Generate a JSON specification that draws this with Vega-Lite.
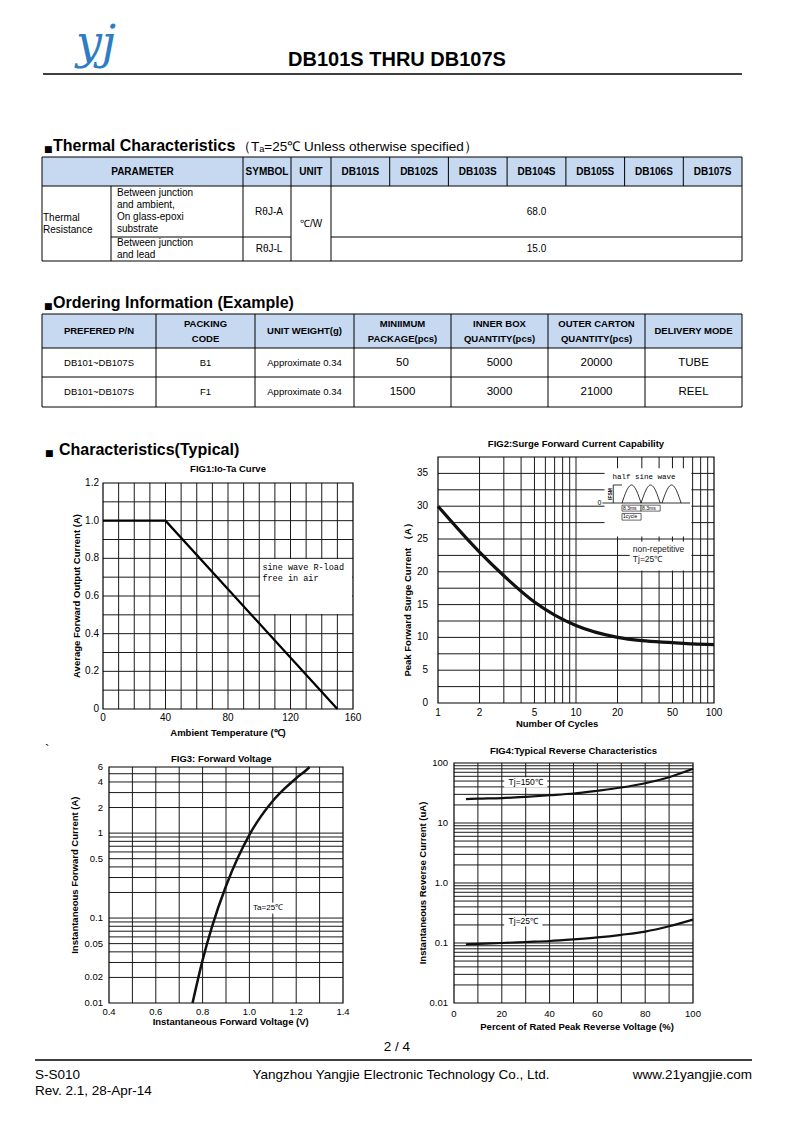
{
"$schema": "https://vega.github.io/schema/vega-lite/v6.json",
"width": 794, "height": 1122, "padding": 0, "autosize": {"type": "none"},
"background": "white",
"config": {"view": {"stroke": null}, "axis": {"disable": true}, "legend": {"disable": true}, "font": "Liberation Sans", "text": {"font": "Liberation Sans", "color": "#000"}},
"resolve": {"scale": {"x": "independent", "y": "independent"}},
"layer": [
{"data": {"values": [{"k": 0, "t": "yj"}]},
 "mark": {"type": "text", "font": "DejaVu Serif", "fontStyle": "italic", "fontSize": 46, "color": "#2e7cc4", "align": "center", "baseline": "middle"},
 "encoding": {"x": {"field": "k", "type": "quantitative", "scale": {"domain": [0, 1], "range": [96, 96]}}, "y": {"field": "k", "type": "quantitative", "scale": {"domain": [0, 1], "range": [44, 44]}}, "text": {"field": "t"}}},
{"data": {"values": [{"k": 0, "t": "DB101S THRU DB107S"}]},
 "mark": {"type": "text", "fontSize": 20, "fontWeight": "bold", "align": "center", "baseline": "middle"},
 "encoding": {"x": {"field": "k", "type": "quantitative", "scale": {"domain": [0, 1], "range": [397, 397]}}, "y": {"field": "k", "type": "quantitative", "scale": {"domain": [0, 1], "range": [60, 60]}}, "text": {"field": "t"}}},
{"data": {"values": [{"s": 0, "p": 0}, {"s": 0, "p": 1}, {"s": 1, "p": 2}, {"s": 1, "p": 3}]},
 "mark": {"type": "line", "color": "#000", "strokeWidth": 1.3},
 "encoding": {"x": {"field": "p", "type": "quantitative", "scale": {"domain": [0, 1, 2, 3], "range": [43, 742, 35, 752]}}, "y": {"field": "p", "type": "quantitative", "scale": {"domain": [0, 1, 2, 3], "range": [74, 74, 1060, 1060]}}, "detail": {"field": "s"}}},
{"data": {"values": [{"k": 0, "t": "Thermal Characteristics"}, {"k": 1, "t": "Ordering Information (Example)"}, {"k": 2, "t": "Characteristics(Typical)"}]},
 "mark": {"type": "text", "fontSize": 16, "fontWeight": "bold", "align": "left", "baseline": "middle"},
 "encoding": {"x": {"field": "k", "type": "quantitative", "scale": {"domain": [0, 1, 2], "range": [53, 53, 59]}}, "y": {"field": "k", "type": "quantitative", "scale": {"domain": [0, 1, 2], "range": [146, 303, 450]}}, "text": {"field": "t"}}},
{"data": {"values": [{"k": 0, "t": "■"}, {"k": 1, "t": "■"}, {"k": 2, "t": "■"}]},
 "mark": {"type": "text", "font": "DejaVu Sans", "fontSize": 9, "align": "left", "baseline": "alphabetic"},
 "encoding": {"x": {"field": "k", "type": "quantitative", "scale": {"domain": [0, 1, 2], "range": [44, 44, 45]}}, "y": {"field": "k", "type": "quantitative", "scale": {"domain": [0, 1, 2], "range": [152, 309, 456]}}, "text": {"field": "t"}}},
{"data": {"values": [{"k": 0, "t": "（Tₐ=25℃ Unless otherwise specified）"}, {"k": 1, "t": "S-S010"}, {"k": 2, "t": "Rev. 2.1, 28-Apr-14"}, {"k": 3, "t": "`"}]},
 "mark": {"type": "text", "fontSize": 13.5, "align": "left", "baseline": "middle"},
 "encoding": {"x": {"field": "k", "type": "quantitative", "scale": {"domain": [0, 1, 2, 3], "range": [237, 35, 35, 45]}}, "y": {"field": "k", "type": "quantitative", "scale": {"domain": [0, 1, 2, 3], "range": [147, 1075, 1091, 750]}}, "text": {"field": "t"}}},
{"data": {"values": [{"k": 0, "t": "2 / 4"}, {"k": 1, "t": "Yangzhou Yangjie Electronic Technology Co., Ltd."}]},
 "mark": {"type": "text", "fontSize": 13.5, "align": "center", "baseline": "middle"},
 "encoding": {"x": {"field": "k", "type": "quantitative", "scale": {"domain": [0, 1], "range": [397, 401]}}, "y": {"field": "k", "type": "quantitative", "scale": {"domain": [0, 1], "range": [1047, 1075]}}, "text": {"field": "t"}}},
{"data": {"values": [{"k": 0, "t": "www.21yangjie.com"}]},
 "mark": {"type": "text", "fontSize": 13.5, "align": "right", "baseline": "middle"},
 "encoding": {"x": {"field": "k", "type": "quantitative", "scale": {"domain": [0, 1], "range": [752, 752]}}, "y": {"field": "k", "type": "quantitative", "scale": {"domain": [0, 1], "range": [1075, 1075]}}, "text": {"field": "t"}}},

{"data": {"values": [{"e1": 0, "e2": 11, "r1": 0, "r2": 1}]},
 "mark": {"type": "rect", "fill": "#c6d9f1"},
 "encoding": {"x": {"field": "e1", "type": "quantitative", "scale": {"domain": [0,1,2,3,4,5,6,7,8,9,10,11], "range": [42,111,243,291,331,389.7,448.4,507.1,565.9,624.6,683.3,742]}}, "x2": {"field": "e2"}, "y": {"field": "r1", "type": "quantitative", "scale": {"domain": [0,1,2,3], "range": [157,186,237,261]}}, "y2": {"field": "r2"}}},
{"data": {"values": [{"a": 0, "b": 11, "r": 0}, {"a": 0, "b": 11, "r": 1}, {"a": 1, "b": 3, "r": 2}, {"a": 4, "b": 11, "r": 2}, {"a": 0, "b": 11, "r": 3}]},
 "mark": {"type": "rule", "color": "#000", "strokeWidth": 1},
 "encoding": {"x": {"field": "a", "type": "quantitative", "scale": {"domain": [0,1,2,3,4,5,6,7,8,9,10,11], "range": [42,111,243,291,331,389.7,448.4,507.1,565.9,624.6,683.3,742]}}, "x2": {"field": "b"}, "y": {"field": "r", "type": "quantitative", "scale": {"domain": [0,1,2,3], "range": [157,186,237,261]}}}},
{"data": {"values": [{"e": 0, "r1": 0, "r2": 3}, {"e": 1, "r1": 1, "r2": 3}, {"e": 2, "r1": 0, "r2": 3}, {"e": 3, "r1": 0, "r2": 3}, {"e": 4, "r1": 0, "r2": 3}, {"e": 5, "r1": 0, "r2": 1}, {"e": 6, "r1": 0, "r2": 1}, {"e": 7, "r1": 0, "r2": 1}, {"e": 8, "r1": 0, "r2": 1}, {"e": 9, "r1": 0, "r2": 1}, {"e": 10, "r1": 0, "r2": 1}, {"e": 11, "r1": 0, "r2": 3}]},
 "mark": {"type": "rule", "color": "#000", "strokeWidth": 1},
 "encoding": {"x": {"field": "e", "type": "quantitative", "scale": {"domain": [0,1,2,3,4,5,6,7,8,9,10,11], "range": [42,111,243,291,331,389.7,448.4,507.1,565.9,624.6,683.3,742]}}, "y": {"field": "r1", "type": "quantitative", "scale": {"domain": [0,1,2,3], "range": [157,186,237,261]}}, "y2": {"field": "r2"}}},
{"data": {"values": [{"c": 0, "r": 0, "t": "PARAMETER"}, {"c": 1, "r": 0, "t": "SYMBOL"}, {"c": 2, "r": 0, "t": "UNIT"}, {"c": 3, "r": 0, "t": "DB101S"}, {"c": 4, "r": 0, "t": "DB102S"}, {"c": 5, "r": 0, "t": "DB103S"}, {"c": 6, "r": 0, "t": "DB104S"}, {"c": 7, "r": 0, "t": "DB105S"}, {"c": 8, "r": 0, "t": "DB106S"}, {"c": 9, "r": 0, "t": "DB107S"}]},
 "mark": {"type": "text", "fontSize": 10, "fontWeight": "bold", "align": "center", "baseline": "middle"},
 "encoding": {"x": {"field": "c", "type": "quantitative", "scale": {"domain": [0,1,2,3,4,5,6,7,8,9], "range": [142.5,267,311,360.35,419.05,477.75,536.5,595.25,653.95,712.65]}}, "y": {"field": "r", "type": "quantitative", "scale": {"domain": [0,1,2,3], "range": [171.5,211.5,249,223.5]}}, "text": {"field": "t"}}},
{"data": {"values": [{"c": 1, "r": 1, "t": "RθJ-A"}, {"c": 1, "r": 2, "t": "RθJ-L"}, {"c": 2, "r": 3, "t": "℃/W"}, {"c": 6, "r": 1, "t": "68.0"}, {"c": 6, "r": 2, "t": "15.0"}]},
 "mark": {"type": "text", "fontSize": 10, "align": "center", "baseline": "middle"},
 "encoding": {"x": {"field": "c", "type": "quantitative", "scale": {"domain": [0,1,2,3,4,5,6,7,8,9], "range": [142.5,269,311,360.35,419.05,477.75,536.5,595.25,653.95,712.65]}}, "y": {"field": "r", "type": "quantitative", "scale": {"domain": [0,1,2,3], "range": [171.5,211.5,249,223.5]}}, "text": {"field": "t"}}},
{"data": {"values": [{"c": 0, "r": 3, "t": "Thermal\nResistance"}, {"c": 1, "r": 1, "t": "Between junction\nand ambient,\nOn glass-epoxi\nsubstrate"}, {"c": 1, "r": 2, "t": "Between junction\nand lead"}]},
 "mark": {"type": "text", "fontSize": 10, "align": "left", "baseline": "middle", "lineBreak": "\n", "lineHeight": 12},
 "encoding": {"x": {"field": "c", "type": "quantitative", "scale": {"domain": [0, 1], "range": [43, 117]}}, "y": {"field": "r", "type": "quantitative", "scale": {"domain": [0,1,2,3], "range": [171.5,193,243,218]}}, "text": {"field": "t"}}},

{"data": {"values": [{"e1": 0, "e2": 7, "r1": 0, "r2": 1}]},
 "mark": {"type": "rect", "fill": "#c6d9f1"},
 "encoding": {"x": {"field": "e1", "type": "quantitative", "scale": {"domain": [0,1,2,3,4,5,6,7], "range": [42,156,255,354,451,548,645,742]}}, "x2": {"field": "e2"}, "y": {"field": "r1", "type": "quantitative", "scale": {"domain": [0,1,2,3], "range": [314,348,377,407]}}, "y2": {"field": "r2"}}},
{"data": {"values": [{"a": 0, "b": 7, "r": 0}, {"a": 0, "b": 7, "r": 1}, {"a": 0, "b": 7, "r": 2}, {"a": 0, "b": 7, "r": 3}]},
 "mark": {"type": "rule", "color": "#000", "strokeWidth": 1},
 "encoding": {"x": {"field": "a", "type": "quantitative", "scale": {"domain": [0,1,2,3,4,5,6,7], "range": [42,156,255,354,451,548,645,742]}}, "x2": {"field": "b"}, "y": {"field": "r", "type": "quantitative", "scale": {"domain": [0,1,2,3], "range": [314,348,377,407]}}}},
{"data": {"values": [{"e": 0}, {"e": 1}, {"e": 2}, {"e": 3}, {"e": 4}, {"e": 5}, {"e": 6}, {"e": 7}]},
 "mark": {"type": "rule", "color": "#000", "strokeWidth": 1},
 "encoding": {"x": {"field": "e", "type": "quantitative", "scale": {"domain": [0,1,2,3,4,5,6,7], "range": [42,156,255,354,451,548,645,742]}}, "y": {"datum": 0, "type": "quantitative", "scale": {"domain": [0,1,2,3], "range": [314,348,377,407]}}, "y2": {"datum": 3}}},
{"data": {"values": [{"c": 0, "t": "PREFERED P/N"}, {"c": 2, "t": "UNIT WEIGHT(g)"}, {"c": 6, "t": "DELIVERY MODE"}]},
 "mark": {"type": "text", "fontSize": 9.5, "fontWeight": "bold", "align": "center", "baseline": "middle"},
 "encoding": {"x": {"field": "c", "type": "quantitative", "scale": {"domain": [0,1,2,3,4,5,6], "range": [99,205.5,304.5,402.5,499.5,596.5,693.5]}}, "y": {"datum": 0, "type": "quantitative", "scale": {"domain": [0,1,2], "range": [331,362.5,392]}}, "text": {"field": "t"}}},
{"data": {"values": [{"c": 1, "t": "PACKING\nCODE"}, {"c": 3, "t": "MINIIMUM\nPACKAGE(pcs)"}, {"c": 4, "t": "INNER BOX\nQUANTITY(pcs)"}, {"c": 5, "t": "OUTER CARTON\nQUANTITY(pcs)"}]},
 "mark": {"type": "text", "fontSize": 9.5, "fontWeight": "bold", "align": "center", "baseline": "middle", "lineBreak": "\n", "lineHeight": 15},
 "encoding": {"x": {"field": "c", "type": "quantitative", "scale": {"domain": [0,1,2,3,4,5,6], "range": [99,205.5,304.5,402.5,499.5,596.5,693.5]}}, "y": {"datum": 0, "type": "quantitative", "scale": {"domain": [0,1,2], "range": [324,362.5,392]}}, "text": {"field": "t"}}},
{"data": {"values": [{"c": 0, "r": 1, "t": "DB101~DB107S"}, {"c": 1, "r": 1, "t": "B1"}, {"c": 2, "r": 1, "t": "Approximate 0.34"}, {"c": 0, "r": 2, "t": "DB101~DB107S"}, {"c": 1, "r": 2, "t": "F1"}, {"c": 2, "r": 2, "t": "Approximate 0.34"}]},
 "mark": {"type": "text", "fontSize": 9.5, "align": "center", "baseline": "middle"},
 "encoding": {"x": {"field": "c", "type": "quantitative", "scale": {"domain": [0,1,2,3,4,5,6], "range": [99,205.5,304.5,402.5,499.5,596.5,693.5]}}, "y": {"field": "r", "type": "quantitative", "scale": {"domain": [0,1,2], "range": [331,362.5,392]}}, "text": {"field": "t"}}},
{"data": {"values": [{"c": 3, "r": 1, "t": "50"}, {"c": 4, "r": 1, "t": "5000"}, {"c": 5, "r": 1, "t": "20000"}, {"c": 6, "r": 1, "t": "TUBE"}, {"c": 3, "r": 2, "t": "1500"}, {"c": 4, "r": 2, "t": "3000"}, {"c": 5, "r": 2, "t": "21000"}, {"c": 6, "r": 2, "t": "REEL"}]},
 "mark": {"type": "text", "fontSize": 11.5, "align": "center", "baseline": "middle"},
 "encoding": {"x": {"field": "c", "type": "quantitative", "scale": {"domain": [0,1,2,3,4,5,6], "range": [99,205.5,304.5,402.5,499.5,596.5,693.5]}}, "y": {"field": "r", "type": "quantitative", "scale": {"domain": [0,1,2], "range": [331,362.5,392]}}, "text": {"field": "t"}}},

{"data": {"values": [{"g": 10}, {"g": 20}, {"g": 30}, {"g": 40}, {"g": 50}, {"g": 60}, {"g": 70}, {"g": 80}, {"g": 90}, {"g": 100}, {"g": 110}, {"g": 120}, {"g": 130}, {"g": 140}, {"g": 150}]},
 "mark": {"type": "rule", "color": "#1a1a1a", "strokeWidth": 1},
 "encoding": {"x": {"field": "g", "type": "quantitative", "scale": {"domain": [0, 160], "range": [103, 353]}}, "y": {"datum": 0, "type": "quantitative", "scale": {"domain": [0, 1.2], "range": [709, 483]}}, "y2": {"datum": 1.2}}},
{"data": {"values": [{"g": 0.1}, {"g": 0.2}, {"g": 0.3}, {"g": 0.4}, {"g": 0.5}, {"g": 0.6}, {"g": 0.7}, {"g": 0.8}, {"g": 0.9}, {"g": 1.0}, {"g": 1.1}]},
 "mark": {"type": "rule", "color": "#1a1a1a", "strokeWidth": 1},
 "encoding": {"y": {"field": "g", "type": "quantitative", "scale": {"domain": [0, 1.2], "range": [709, 483]}}, "x": {"datum": 0, "type": "quantitative", "scale": {"domain": [0, 160], "range": [103, 353]}}, "x2": {"datum": 160}}},
{"data": {"values": [{}]},
 "mark": {"type": "rect", "fill": "#fff"},
 "encoding": {"x": {"datum": 100.5, "type": "quantitative", "scale": {"domain": [0, 160], "range": [103, 353]}}, "x2": {"datum": 159.5}, "y": {"datum": 0.504, "type": "quantitative", "scale": {"domain": [0, 1.2], "range": [709, 483]}}, "y2": {"datum": 0.796}}},
{"data": {"values": [{}]},
 "mark": {"type": "rect", "fill": "transparent", "stroke": "#000", "strokeWidth": 1.2},
 "encoding": {"x": {"datum": 0, "type": "quantitative", "scale": {"domain": [0, 160], "range": [103, 353]}}, "x2": {"datum": 160}, "y": {"datum": 0, "type": "quantitative", "scale": {"domain": [0, 1.2], "range": [709, 483]}}, "y2": {"datum": 1.2}}},
{"data": {"values": [{"ta": 0, "io": 1.0}, {"ta": 40, "io": 1.0}, {"ta": 150, "io": 0}]},
 "mark": {"type": "line", "color": "#000", "strokeWidth": 2.3},
 "encoding": {"x": {"field": "ta", "type": "quantitative", "scale": {"domain": [0, 160], "range": [103, 353]}}, "y": {"field": "io", "type": "quantitative", "scale": {"domain": [0, 1.2], "range": [709, 483]}}}},
{"data": {"values": [{"t": "sine wave R-load\nfree in air"}]},
 "mark": {"type": "text", "font": "Liberation Mono", "fontSize": 8.5, "align": "left", "baseline": "middle", "lineBreak": "\n", "lineHeight": 11},
 "encoding": {"x": {"datum": 102, "type": "quantitative", "scale": {"domain": [0, 160], "range": [103, 353]}}, "y": {"datum": 0.755, "type": "quantitative", "scale": {"domain": [0, 1.2], "range": [709, 483]}}, "text": {"field": "t"}}},
{"data": {"values": [{"g": 0, "l": "0"}, {"g": 40, "l": "40"}, {"g": 80, "l": "80"}, {"g": 120, "l": "120"}, {"g": 160, "l": "160"}]},
 "mark": {"type": "text", "fontSize": 10, "align": "center", "baseline": "middle", "dy": 9},
 "encoding": {"x": {"field": "g", "type": "quantitative", "scale": {"domain": [0, 160], "range": [103, 353]}}, "y": {"datum": 0, "type": "quantitative", "scale": {"domain": [0, 1.2], "range": [709, 483]}}, "text": {"field": "l"}}},
{"data": {"values": [{"g": 0, "l": "0"}, {"g": 0.2, "l": "0.2"}, {"g": 0.4, "l": "0.4"}, {"g": 0.6, "l": "0.6"}, {"g": 0.8, "l": "0.8"}, {"g": 1.0, "l": "1.0"}, {"g": 1.2, "l": "1.2"}]},
 "mark": {"type": "text", "fontSize": 10, "align": "right", "baseline": "middle", "dx": -4},
 "encoding": {"y": {"field": "g", "type": "quantitative", "scale": {"domain": [0, 1.2], "range": [709, 483]}}, "x": {"datum": 0, "type": "quantitative", "scale": {"domain": [0, 160], "range": [103, 353]}}, "text": {"field": "l"}}},
{"data": {"values": [{"t": "FIG1:Io-Ta Curve"}]},
 "mark": {"type": "text", "fontSize": 9.5, "fontWeight": "bold", "align": "center", "baseline": "middle", "dy": -14},
 "encoding": {"x": {"datum": 80, "type": "quantitative", "scale": {"domain": [0, 160], "range": [103, 353]}}, "y": {"datum": 1.2, "type": "quantitative", "scale": {"domain": [0, 1.2], "range": [709, 483]}}, "text": {"field": "t"}}},
{"data": {"values": [{"t": "Ambient Temperature (℃)"}]},
 "mark": {"type": "text", "fontSize": 9.5, "fontWeight": "bold", "align": "center", "baseline": "middle", "dy": 24},
 "encoding": {"x": {"datum": 80, "type": "quantitative", "scale": {"domain": [0, 160], "range": [103, 353]}}, "y": {"datum": 0, "type": "quantitative", "scale": {"domain": [0, 1.2], "range": [709, 483]}}, "text": {"field": "t"}}},
{"data": {"values": [{"t": "Average Forward Output Current (A)"}]},
 "mark": {"type": "text", "fontSize": 9.5, "fontWeight": "bold", "align": "center", "baseline": "middle", "angle": 270, "dy": -26},
 "encoding": {"x": {"datum": 0, "type": "quantitative", "scale": {"domain": [0, 160], "range": [103, 353]}}, "y": {"datum": 0.6, "type": "quantitative", "scale": {"domain": [0, 1.2], "range": [709, 483]}}, "text": {"field": "t"}}},

{"data": {"values": [{"g": 2}, {"g": 3}, {"g": 4}, {"g": 5}, {"g": 6}, {"g": 7}, {"g": 8}, {"g": 9}, {"g": 10}, {"g": 20}, {"g": 30}, {"g": 40}, {"g": 50}, {"g": 60}, {"g": 70}, {"g": 80}, {"g": 90}]},
 "mark": {"type": "rule", "color": "#1a1a1a", "strokeWidth": 1},
 "encoding": {"x": {"field": "g", "type": "quantitative", "scale": {"type": "log", "domain": [1, 100], "range": [438, 714]}}, "y": {"datum": 0, "type": "quantitative", "scale": {"domain": [0, 37.5], "range": [703, 457]}}, "y2": {"datum": 37.5}}},
{"data": {"values": [{"g": 2.5}, {"g": 5}, {"g": 7.5}, {"g": 10}, {"g": 12.5}, {"g": 15}, {"g": 17.5}, {"g": 20}, {"g": 22.5}, {"g": 25}, {"g": 27.5}, {"g": 30}, {"g": 32.5}, {"g": 35}]},
 "mark": {"type": "rule", "color": "#1a1a1a", "strokeWidth": 1},
 "encoding": {"y": {"field": "g", "type": "quantitative", "scale": {"domain": [0, 37.5], "range": [703, 457]}}, "x": {"datum": 1, "type": "quantitative", "scale": {"type": "log", "domain": [1, 100], "range": [438, 714]}}, "x2": {"datum": 100}}},
{"data": {"values": [{}]},
 "mark": {"type": "rect", "fill": "#fff"},
 "encoding": {"x": {"datum": 16.1, "type": "quantitative", "scale": {"type": "log", "domain": [1, 100], "range": [438, 714]}}, "x2": {"datum": 68.6}, "y": {"datum": 25.4, "type": "quantitative", "scale": {"domain": [0, 37.5], "range": [703, 457]}}, "y2": {"datum": 35.8}}},
{"data": {"values": [{}]},
 "mark": {"type": "rect", "fill": "#fff"},
 "encoding": {"x": {"datum": 24.5, "type": "quantitative", "scale": {"type": "log", "domain": [1, 100], "range": [438, 714]}}, "x2": {"datum": 68.6}, "y": {"datum": 20.2, "type": "quantitative", "scale": {"domain": [0, 37.5], "range": [703, 457]}}, "y2": {"datum": 24.6}}},
{"data": {"values": [{}]},
 "mark": {"type": "rect", "fill": "transparent", "stroke": "#000", "strokeWidth": 1.2},
 "encoding": {"x": {"datum": 1, "type": "quantitative", "scale": {"type": "log", "domain": [1, 100], "range": [438, 714]}}, "x2": {"datum": 100}, "y": {"datum": 0, "type": "quantitative", "scale": {"domain": [0, 37.5], "range": [703, 457]}}, "y2": {"datum": 37.5}}},
{"data": {"values": [{"n": 1, "a": 30}, {"n": 2, "a": 23}, {"n": 3, "a": 19.4}, {"n": 5, "a": 15.4}, {"n": 10, "a": 11.8}, {"n": 20, "a": 10.0}, {"n": 30, "a": 9.5}, {"n": 50, "a": 9.2}, {"n": 70, "a": 9.0}, {"n": 100, "a": 8.9}]},
 "mark": {"type": "line", "color": "#111", "strokeWidth": 3.2, "interpolate": "monotone"},
 "encoding": {"x": {"field": "n", "type": "quantitative", "scale": {"type": "log", "domain": [1, 100], "range": [438, 714]}}, "y": {"field": "a", "type": "quantitative", "scale": {"domain": [0, 37.5], "range": [703, 457]}}}},
{"data": {"values": [{}]},
 "mark": {"type": "rule", "color": "#000", "strokeWidth": 0.8},
 "encoding": {"x": {"datum": -8.5, "type": "quantitative", "scale": {"domain": [0, 25], "range": [622, 679.5]}}, "x2": {"datum": 29.6}, "y": {"datum": 0, "type": "quantitative", "scale": {"domain": [0, 1], "range": [503, 485]}}}},
{"data": {"values": [{"h": 1, "t": 0, "a": 0}, {"h": 1, "t": 0.83, "a": 0.31}, {"h": 1, "t": 2.08, "a": 0.71}, {"h": 1, "t": 3.32, "a": 0.95}, {"h": 1, "t": 4.15, "a": 1}, {"h": 1, "t": 4.98, "a": 0.95}, {"h": 1, "t": 6.22, "a": 0.71}, {"h": 1, "t": 7.47, "a": 0.31}, {"h": 1, "t": 8.3, "a": 0},
  {"h": 2, "t": 8.3, "a": 0}, {"h": 2, "t": 9.13, "a": 0.31}, {"h": 2, "t": 10.38, "a": 0.71}, {"h": 2, "t": 11.62, "a": 0.95}, {"h": 2, "t": 12.45, "a": 1}, {"h": 2, "t": 13.28, "a": 0.95}, {"h": 2, "t": 14.52, "a": 0.71}, {"h": 2, "t": 15.77, "a": 0.31}, {"h": 2, "t": 16.6, "a": 0},
  {"h": 3, "t": 17.4, "a": 0}, {"h": 3, "t": 18.23, "a": 0.31}, {"h": 3, "t": 19.48, "a": 0.71}, {"h": 3, "t": 20.72, "a": 0.95}, {"h": 3, "t": 21.55, "a": 1}, {"h": 3, "t": 22.38, "a": 0.95}, {"h": 3, "t": 23.62, "a": 0.71}, {"h": 3, "t": 24.87, "a": 0.31}, {"h": 3, "t": 25.7, "a": 0}]},
 "mark": {"type": "line", "color": "#000", "strokeWidth": 0.8, "interpolate": "monotone"},
 "encoding": {"x": {"field": "t", "type": "quantitative", "scale": {"domain": [0, 25], "range": [622, 679.5]}}, "y": {"field": "a", "type": "quantitative", "scale": {"domain": [0, 1], "range": [503, 485]}}, "detail": {"field": "h"}}},
{"data": {"values": [{"o": 0, "t": -3.8, "a": 0}, {"o": 1, "t": -3.8, "a": 1}, {"o": 2, "t": 0, "a": 1}]},
 "mark": {"type": "line", "color": "#000", "strokeWidth": 0.8},
 "encoding": {"x": {"field": "t", "type": "quantitative", "scale": {"domain": [0, 25], "range": [622, 679.5]}}, "y": {"field": "a", "type": "quantitative", "scale": {"domain": [0, 1], "range": [503, 485]}}, "order": {"field": "o"}}},
{"data": {"values": [{"t1": 0, "t2": 8.3, "a1": -0.12, "a2": -0.45, "lab": "8.3ms"}, {"t1": 8.3, "t2": 16.6, "a1": -0.12, "a2": -0.45, "lab": "8.3ms"}, {"t1": 0, "t2": 8.3, "a1": -0.58, "a2": -0.95, "lab": "1cycle"}]},
 "mark": {"type": "rect", "fill": "#fff", "stroke": "#000", "strokeWidth": 0.6},
 "encoding": {"x": {"field": "t1", "type": "quantitative", "scale": {"domain": [0, 25], "range": [622, 679.5]}}, "x2": {"field": "t2"}, "y": {"field": "a1", "type": "quantitative", "scale": {"domain": [0, 1], "range": [503, 485]}}, "y2": {"field": "a2"}}},
{"data": {"values": [{"t1": 0, "a1": -0.12, "lab": "8.3ms"}, {"t1": 8.3, "a1": -0.12, "lab": "8.3ms"}, {"t1": 0, "a1": -0.58, "lab": "1cycle"}]},
 "mark": {"type": "text", "fontSize": 5, "align": "left", "baseline": "top", "dx": 1, "dy": 0.8},
 "encoding": {"x": {"field": "t1", "type": "quantitative", "scale": {"domain": [0, 25], "range": [622, 679.5]}}, "y": {"field": "a1", "type": "quantitative", "scale": {"domain": [0, 1], "range": [503, 485]}}, "text": {"field": "lab"}}},
{"data": {"values": [{"t": "half sine wave"}]},
 "mark": {"type": "text", "font": "Liberation Mono", "fontSize": 7.5, "align": "center", "baseline": "middle"},
 "encoding": {"x": {"datum": 9.6, "type": "quantitative", "scale": {"domain": [0, 25], "range": [622, 679.5]}}, "y": {"datum": 1.44, "type": "quantitative", "scale": {"domain": [0, 1], "range": [503, 485]}}, "text": {"field": "t"}}},
{"data": {"values": [{"t": "0"}]},
 "mark": {"type": "text", "fontSize": 7, "align": "right", "baseline": "middle", "dx": -1},
 "encoding": {"x": {"datum": -8.5, "type": "quantitative", "scale": {"domain": [0, 25], "range": [622, 679.5]}}, "y": {"datum": 0, "type": "quantitative", "scale": {"domain": [0, 1], "range": [503, 485]}}, "text": {"field": "t"}}},
{"data": {"values": [{"t": "IFSM"}]},
 "mark": {"type": "text", "fontSize": 5, "fontWeight": "bold", "align": "center", "baseline": "middle", "angle": 270},
 "encoding": {"x": {"datum": -5.3, "type": "quantitative", "scale": {"domain": [0, 25], "range": [622, 679.5]}}, "y": {"datum": 0.5, "type": "quantitative", "scale": {"domain": [0, 1], "range": [503, 485]}}, "text": {"field": "t"}}},
{"data": {"values": [{"t": "non-repetitive\nTj=25℃"}]},
 "mark": {"type": "text", "fontSize": 8.5, "align": "left", "baseline": "middle", "lineBreak": "\n", "lineHeight": 10.5, "color": "#222"},
 "encoding": {"x": {"datum": 25.8, "type": "quantitative", "scale": {"type": "log", "domain": [1, 100], "range": [438, 714]}}, "y": {"datum": 23.5, "type": "quantitative", "scale": {"domain": [0, 37.5], "range": [703, 457]}}, "text": {"field": "t"}}},
{"data": {"values": [{"g": 1, "l": "1"}, {"g": 2, "l": "2"}, {"g": 5, "l": "5"}, {"g": 10, "l": "10"}, {"g": 20, "l": "20"}, {"g": 50, "l": "50"}, {"g": 100, "l": "100"}]},
 "mark": {"type": "text", "fontSize": 10, "align": "center", "baseline": "middle", "dy": 10},
 "encoding": {"x": {"field": "g", "type": "quantitative", "scale": {"type": "log", "domain": [1, 100], "range": [438, 714]}}, "y": {"datum": 0, "type": "quantitative", "scale": {"domain": [0, 37.5], "range": [703, 457]}}, "text": {"field": "l"}}},
{"data": {"values": [{"g": 0, "l": "0"}, {"g": 5, "l": "5"}, {"g": 10, "l": "10"}, {"g": 15, "l": "15"}, {"g": 20, "l": "20"}, {"g": 25, "l": "25"}, {"g": 30, "l": "30"}, {"g": 35, "l": "35"}]},
 "mark": {"type": "text", "fontSize": 10, "align": "right", "baseline": "middle", "dx": -10},
 "encoding": {"y": {"field": "g", "type": "quantitative", "scale": {"domain": [0, 37.5], "range": [703, 457]}}, "x": {"datum": 1, "type": "quantitative", "scale": {"type": "log", "domain": [1, 100], "range": [438, 714]}}, "text": {"field": "l"}}},
{"data": {"values": [{"t": "FIG2:Surge Forward Current Capability"}]},
 "mark": {"type": "text", "fontSize": 9.5, "fontWeight": "bold", "align": "center", "baseline": "middle", "dy": -13},
 "encoding": {"x": {"datum": 10, "type": "quantitative", "scale": {"type": "log", "domain": [1, 100], "range": [438, 714]}}, "y": {"datum": 37.5, "type": "quantitative", "scale": {"domain": [0, 37.5], "range": [703, 457]}}, "text": {"field": "t"}}},
{"data": {"values": [{"t": "Number Of Cycles"}]},
 "mark": {"type": "text", "fontSize": 9.5, "fontWeight": "bold", "align": "center", "baseline": "middle", "dy": 21},
 "encoding": {"x": {"datum": 7.3, "type": "quantitative", "scale": {"type": "log", "domain": [1, 100], "range": [438, 714]}}, "y": {"datum": 0, "type": "quantitative", "scale": {"domain": [0, 37.5], "range": [703, 457]}}, "text": {"field": "t"}}},
{"data": {"values": [{"t": "Peak Forward Surge Current （A）"}]},
 "mark": {"type": "text", "fontSize": 9.5, "fontWeight": "bold", "align": "center", "baseline": "middle", "angle": 270, "dy": -30},
 "encoding": {"x": {"datum": 1, "type": "quantitative", "scale": {"type": "log", "domain": [1, 100], "range": [438, 714]}}, "y": {"datum": 16.1, "type": "quantitative", "scale": {"domain": [0, 37.5], "range": [703, 457]}}, "text": {"field": "t"}}},

{"data": {"values": [{"g": 0.5}, {"g": 0.6}, {"g": 0.7}, {"g": 0.8}, {"g": 0.9}, {"g": 1.0}, {"g": 1.1}, {"g": 1.2}, {"g": 1.3}]},
 "mark": {"type": "rule", "color": "#1a1a1a", "strokeWidth": 1},
 "encoding": {"x": {"field": "g", "type": "quantitative", "scale": {"domain": [0.4, 1.4], "range": [109, 343]}}, "y": {"datum": 0.01, "type": "quantitative", "scale": {"type": "log", "domain": [0.01, 6], "range": [1003, 767]}}, "y2": {"datum": 6}}},
{"data": {"values": [{"g": 0.02}, {"g": 0.03}, {"g": 0.04}, {"g": 0.05}, {"g": 0.06}, {"g": 0.07}, {"g": 0.08}, {"g": 0.09}, {"g": 0.1}, {"g": 0.2}, {"g": 0.3}, {"g": 0.4}, {"g": 0.5}, {"g": 0.6}, {"g": 0.7}, {"g": 0.8}, {"g": 0.9}, {"g": 1}, {"g": 2}, {"g": 3}, {"g": 4}, {"g": 5}]},
 "mark": {"type": "rule", "color": "#1a1a1a", "strokeWidth": 1},
 "encoding": {"y": {"field": "g", "type": "quantitative", "scale": {"type": "log", "domain": [0.01, 6], "range": [1003, 767]}}, "x": {"datum": 0.4, "type": "quantitative", "scale": {"domain": [0.4, 1.4], "range": [109, 343]}}, "x2": {"datum": 1.4}}},
{"data": {"values": [{}]},
 "mark": {"type": "rect", "fill": "#fff"},
 "encoding": {"x": {"datum": 1.02, "type": "quantitative", "scale": {"domain": [0.4, 1.4], "range": [109, 343]}}, "x2": {"datum": 1.15}, "y": {"datum": 0.113, "type": "quantitative", "scale": {"type": "log", "domain": [0.01, 6], "range": [1003, 767]}}, "y2": {"datum": 0.152}}},
{"data": {"values": [{}]},
 "mark": {"type": "rect", "fill": "transparent", "stroke": "#000", "strokeWidth": 1.2},
 "encoding": {"x": {"datum": 0.4, "type": "quantitative", "scale": {"domain": [0.4, 1.4], "range": [109, 343]}}, "x2": {"datum": 1.4}, "y": {"datum": 0.01, "type": "quantitative", "scale": {"type": "log", "domain": [0.01, 6], "range": [1003, 767]}}, "y2": {"datum": 6}}},
{"data": {"values": [{"v": 0.757, "i": 0.01}, {"v": 0.8, "i": 0.032}, {"v": 0.839, "i": 0.077}, {"v": 0.9, "i": 0.238}, {"v": 0.95, "i": 0.508}, {"v": 1.0, "i": 0.955}, {"v": 1.05, "i": 1.585}, {"v": 1.1, "i": 2.39}, {"v": 1.15, "i": 3.33}, {"v": 1.2, "i": 4.43}, {"v": 1.246, "i": 5.61}, {"v": 1.257, "i": 6.0}]},
 "mark": {"type": "line", "color": "#111", "strokeWidth": 2.5, "interpolate": "monotone"},
 "encoding": {"x": {"field": "v", "type": "quantitative", "scale": {"domain": [0.4, 1.4], "range": [109, 343]}}, "y": {"field": "i", "type": "quantitative", "scale": {"type": "log", "domain": [0.01, 6], "range": [1003, 767]}}}},
{"data": {"values": [{"t": "Ta=25℃"}]},
 "mark": {"type": "text", "fontSize": 8, "align": "center", "baseline": "middle"},
 "encoding": {"x": {"datum": 1.08, "type": "quantitative", "scale": {"domain": [0.4, 1.4], "range": [109, 343]}}, "y": {"datum": 0.13, "type": "quantitative", "scale": {"type": "log", "domain": [0.01, 6], "range": [1003, 767]}}, "text": {"field": "t"}}},
{"data": {"values": [{"g": 0.4, "l": "0.4"}, {"g": 0.6, "l": "0.6"}, {"g": 0.8, "l": "0.8"}, {"g": 1.0, "l": "1.0"}, {"g": 1.2, "l": "1.2"}, {"g": 1.4, "l": "1.4"}]},
 "mark": {"type": "text", "fontSize": 9.5, "align": "center", "baseline": "middle", "dy": 9},
 "encoding": {"x": {"field": "g", "type": "quantitative", "scale": {"domain": [0.4, 1.4], "range": [109, 343]}}, "y": {"datum": 0.01, "type": "quantitative", "scale": {"type": "log", "domain": [0.01, 6], "range": [1003, 767]}}, "text": {"field": "l"}}},
{"data": {"values": [{"g": 0.01, "l": "0.01"}, {"g": 0.02, "l": "0.02"}, {"g": 0.05, "l": "0.05"}, {"g": 0.1, "l": "0.1"}, {"g": 0.5, "l": "0.5"}, {"g": 1, "l": "1"}, {"g": 2, "l": "2"}, {"g": 4, "l": "4"}, {"g": 6, "l": "6"}]},
 "mark": {"type": "text", "fontSize": 9.5, "align": "right", "baseline": "middle", "dx": -6},
 "encoding": {"y": {"field": "g", "type": "quantitative", "scale": {"type": "log", "domain": [0.01, 6], "range": [1003, 767]}}, "x": {"datum": 0.4, "type": "quantitative", "scale": {"domain": [0.4, 1.4], "range": [109, 343]}}, "text": {"field": "l"}}},
{"data": {"values": [{"t": "FIG3: Forward Voltage"}]},
 "mark": {"type": "text", "fontSize": 9.5, "fontWeight": "bold", "align": "center", "baseline": "middle", "dy": -8},
 "encoding": {"x": {"datum": 0.88, "type": "quantitative", "scale": {"domain": [0.4, 1.4], "range": [109, 343]}}, "y": {"datum": 6, "type": "quantitative", "scale": {"type": "log", "domain": [0.01, 6], "range": [1003, 767]}}, "text": {"field": "t"}}},
{"data": {"values": [{"t": "Instantaneous Forward Voltage (V)"}]},
 "mark": {"type": "text", "fontSize": 9.5, "fontWeight": "bold", "align": "center", "baseline": "middle", "dy": 19},
 "encoding": {"x": {"datum": 0.92, "type": "quantitative", "scale": {"domain": [0.4, 1.4], "range": [109, 343]}}, "y": {"datum": 0.01, "type": "quantitative", "scale": {"type": "log", "domain": [0.01, 6], "range": [1003, 767]}}, "text": {"field": "t"}}},
{"data": {"values": [{"t": "Instantaneous Forward Current (A)"}]},
 "mark": {"type": "text", "fontSize": 9.5, "fontWeight": "bold", "align": "center", "baseline": "middle", "angle": 270, "dy": -34},
 "encoding": {"x": {"datum": 0.4, "type": "quantitative", "scale": {"domain": [0.4, 1.4], "range": [109, 343]}}, "y": {"datum": 0.32, "type": "quantitative", "scale": {"type": "log", "domain": [0.01, 6], "range": [1003, 767]}}, "text": {"field": "t"}}},

{"data": {"values": [{"g": 10}, {"g": 20}, {"g": 30}, {"g": 40}, {"g": 50}, {"g": 60}, {"g": 70}, {"g": 80}, {"g": 90}]},
 "mark": {"type": "rule", "color": "#1a1a1a", "strokeWidth": 1},
 "encoding": {"x": {"field": "g", "type": "quantitative", "scale": {"domain": [0, 100], "range": [454, 693]}}, "y": {"datum": 0.01, "type": "quantitative", "scale": {"type": "log", "domain": [0.01, 100], "range": [1003, 763]}}, "y2": {"datum": 100}}},
{"data": {"values": [{"g": 0.02}, {"g": 0.03}, {"g": 0.04}, {"g": 0.05}, {"g": 0.06}, {"g": 0.07}, {"g": 0.08}, {"g": 0.09}, {"g": 0.1}, {"g": 0.2}, {"g": 0.3}, {"g": 0.4}, {"g": 0.5}, {"g": 0.6}, {"g": 0.7}, {"g": 0.8}, {"g": 0.9}, {"g": 1}, {"g": 2}, {"g": 3}, {"g": 4}, {"g": 5}, {"g": 6}, {"g": 7}, {"g": 8}, {"g": 9}, {"g": 10}, {"g": 20}, {"g": 30}, {"g": 40}, {"g": 50}, {"g": 60}, {"g": 70}, {"g": 80}, {"g": 90}]},
 "mark": {"type": "rule", "color": "#1a1a1a", "strokeWidth": 1},
 "encoding": {"y": {"field": "g", "type": "quantitative", "scale": {"type": "log", "domain": [0.01, 100], "range": [1003, 763]}}, "x": {"datum": 0, "type": "quantitative", "scale": {"domain": [0, 100], "range": [454, 693]}}, "x2": {"datum": 100}}},
{"data": {"values": [{}]},
 "mark": {"type": "rect", "fill": "#fff"},
 "encoding": {"x": {"datum": 21, "type": "quantitative", "scale": {"domain": [0, 100], "range": [454, 693]}}, "x2": {"datum": 39}, "y": {"datum": 39, "type": "quantitative", "scale": {"type": "log", "domain": [0.01, 100], "range": [1003, 763]}}, "y2": {"datum": 58}}},
{"data": {"values": [{}]},
 "mark": {"type": "rect", "fill": "#fff"},
 "encoding": {"x": {"datum": 21, "type": "quantitative", "scale": {"domain": [0, 100], "range": [454, 693]}}, "x2": {"datum": 37}, "y": {"datum": 0.188, "type": "quantitative", "scale": {"type": "log", "domain": [0.01, 100], "range": [1003, 763]}}, "y2": {"datum": 0.28}}},
{"data": {"values": [{}]},
 "mark": {"type": "rect", "fill": "transparent", "stroke": "#000", "strokeWidth": 1.2},
 "encoding": {"x": {"datum": 0, "type": "quantitative", "scale": {"domain": [0, 100], "range": [454, 693]}}, "x2": {"datum": 100}, "y": {"datum": 0.01, "type": "quantitative", "scale": {"type": "log", "domain": [0.01, 100], "range": [1003, 763]}}, "y2": {"datum": 100}}},
{"data": {"values": [{"tj": "150", "v": 5, "i": 25}, {"tj": "150", "v": 10, "i": 25.4}, {"tj": "150", "v": 20, "i": 26}, {"tj": "150", "v": 30, "i": 27.3}, {"tj": "150", "v": 40, "i": 29}, {"tj": "150", "v": 50, "i": 31}, {"tj": "150", "v": 60, "i": 34.5}, {"tj": "150", "v": 70, "i": 39}, {"tj": "150", "v": 80, "i": 46}, {"tj": "150", "v": 90, "i": 58}, {"tj": "150", "v": 100, "i": 80},
  {"tj": "25", "v": 5, "i": 0.095}, {"tj": "25", "v": 10, "i": 0.097}, {"tj": "25", "v": 20, "i": 0.1}, {"tj": "25", "v": 30, "i": 0.104}, {"tj": "25", "v": 40, "i": 0.108}, {"tj": "25", "v": 50, "i": 0.115}, {"tj": "25", "v": 60, "i": 0.124}, {"tj": "25", "v": 70, "i": 0.137}, {"tj": "25", "v": 80, "i": 0.155}, {"tj": "25", "v": 90, "i": 0.19}, {"tj": "25", "v": 100, "i": 0.245}]},
 "mark": {"type": "line", "color": "#111", "strokeWidth": 2.2, "interpolate": "monotone"},
 "encoding": {"x": {"field": "v", "type": "quantitative", "scale": {"domain": [0, 100], "range": [454, 693]}}, "y": {"field": "i", "type": "quantitative", "scale": {"type": "log", "domain": [0.01, 100], "range": [1003, 763]}}, "detail": {"field": "tj"}}},
{"data": {"values": [{"t": "Tj=150℃"}]},
 "mark": {"type": "text", "fontSize": 8.5, "align": "center", "baseline": "middle"},
 "encoding": {"x": {"datum": 30, "type": "quantitative", "scale": {"domain": [0, 100], "range": [454, 693]}}, "y": {"datum": 47.5, "type": "quantitative", "scale": {"type": "log", "domain": [0.01, 100], "range": [1003, 763]}}, "text": {"field": "t"}}},
{"data": {"values": [{"t": "Tj=25℃"}]},
 "mark": {"type": "text", "fontSize": 8.5, "align": "center", "baseline": "middle"},
 "encoding": {"x": {"datum": 29, "type": "quantitative", "scale": {"domain": [0, 100], "range": [454, 693]}}, "y": {"datum": 0.229, "type": "quantitative", "scale": {"type": "log", "domain": [0.01, 100], "range": [1003, 763]}}, "text": {"field": "t"}}},
{"data": {"values": [{"g": 0, "l": "0"}, {"g": 20, "l": "20"}, {"g": 40, "l": "40"}, {"g": 60, "l": "60"}, {"g": 80, "l": "80"}, {"g": 100, "l": "100"}]},
 "mark": {"type": "text", "fontSize": 9.5, "align": "center", "baseline": "middle", "dy": 11},
 "encoding": {"x": {"field": "g", "type": "quantitative", "scale": {"domain": [0, 100], "range": [454, 693]}}, "y": {"datum": 0.01, "type": "quantitative", "scale": {"type": "log", "domain": [0.01, 100], "range": [1003, 763]}}, "text": {"field": "l"}}},
{"data": {"values": [{"g": 0.01, "l": "0.01"}, {"g": 0.1, "l": "0.1"}, {"g": 1, "l": "1.0"}, {"g": 10, "l": "10"}, {"g": 100, "l": "100"}]},
 "mark": {"type": "text", "fontSize": 9.5, "align": "right", "baseline": "middle", "dx": -6},
 "encoding": {"y": {"field": "g", "type": "quantitative", "scale": {"type": "log", "domain": [0.01, 100], "range": [1003, 763]}}, "x": {"datum": 0, "type": "quantitative", "scale": {"domain": [0, 100], "range": [454, 693]}}, "text": {"field": "l"}}},
{"data": {"values": [{"t": "FIG4:Typical Reverse Characteristics"}]},
 "mark": {"type": "text", "fontSize": 9.5, "fontWeight": "bold", "align": "center", "baseline": "middle", "dy": -12},
 "encoding": {"x": {"datum": 50, "type": "quantitative", "scale": {"domain": [0, 100], "range": [454, 693]}}, "y": {"datum": 100, "type": "quantitative", "scale": {"type": "log", "domain": [0.01, 100], "range": [1003, 763]}}, "text": {"field": "t"}}},
{"data": {"values": [{"t": "Percent of Rated Peak Reverse Voltage  (%)"}]},
 "mark": {"type": "text", "fontSize": 9.5, "fontWeight": "bold", "align": "center", "baseline": "middle", "dy": 24},
 "encoding": {"x": {"datum": 51.5, "type": "quantitative", "scale": {"domain": [0, 100], "range": [454, 693]}}, "y": {"datum": 0.01, "type": "quantitative", "scale": {"type": "log", "domain": [0.01, 100], "range": [1003, 763]}}, "text": {"field": "t"}}},
{"data": {"values": [{"t": "Instantaneous Reverse Current (uA)"}]},
 "mark": {"type": "text", "fontSize": 9.5, "fontWeight": "bold", "align": "center", "baseline": "middle", "angle": 270, "dy": -31},
 "encoding": {"x": {"datum": 0, "type": "quantitative", "scale": {"domain": [0, 100], "range": [454, 693]}}, "y": {"datum": 1, "type": "quantitative", "scale": {"type": "log", "domain": [0.01, 100], "range": [1003, 763]}}, "text": {"field": "t"}}}
]
}
